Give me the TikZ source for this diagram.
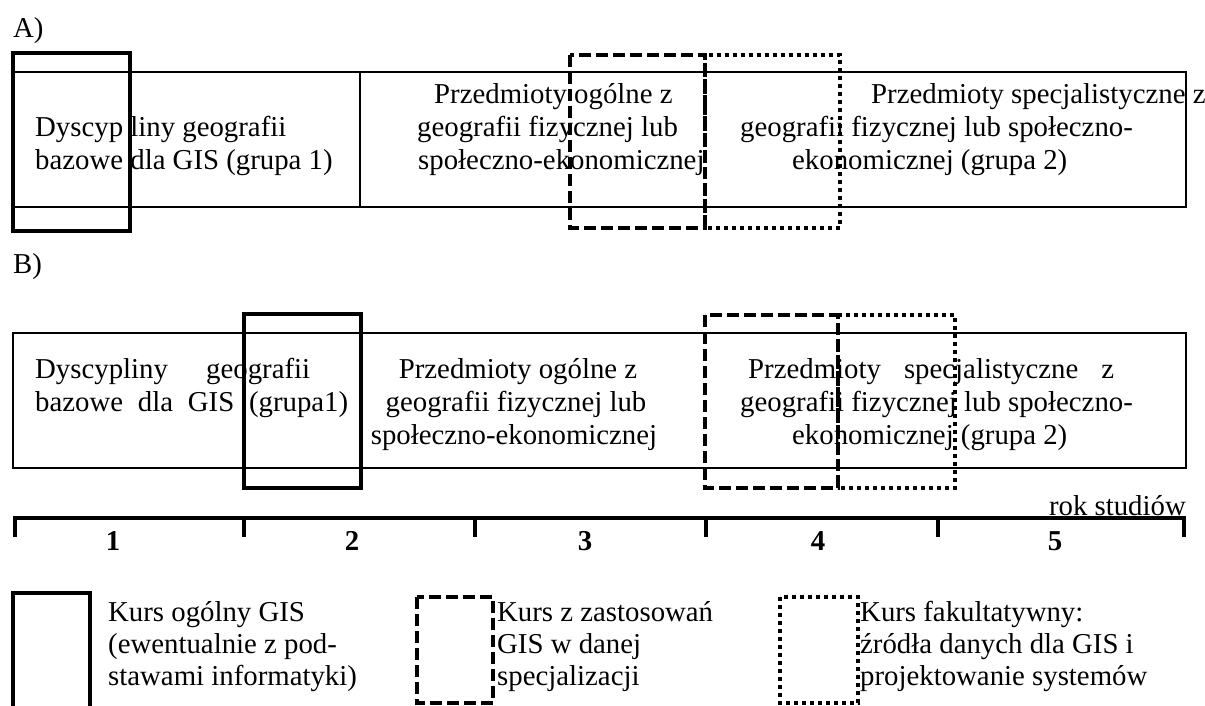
\documentclass[tikz,border=0pt]{standalone}
\usepackage{fontspec}
\setmainfont{Liberation Serif}
\usepackage{tikz}

\begin{document}
\begin{tikzpicture}[
            x = 1pt, y = -1pt, % pixel grid, y runs down
            pasek/.style = {draw=black, line width=1.8pt}, % band of subjects
            ogolny/.style = {draw=black, line width=4.5pt},
            zastos/.style = {draw=black, line width=4.5pt, dash pattern=on 12pt off 5pt},
            fakult/.style = {draw=black, line width=4.5pt, dash pattern=on 4pt off 4pt},
            tekst/.style = {anchor=base west, inner sep=0pt, font=\fontsize{28.8}{33}\selectfont},
            rok/.style = {anchor=base, inner sep=0pt, font=\fontsize{28.8}{33}\selectfont\bfseries}
        ]
\useasboundingbox (0,0) rectangle (1205,706);

% A)
\node[tekst] (LA) at (13,38) {A)};
\draw[pasek] (13,72) rectangle (1186,207);
\draw[pasek] (360,72) -- (360,207);

\node[tekst] (A1a) at (35,137) {Dyscyp liny geografii};
\node[tekst] (A1b) at (35,170) {bazowe dla GIS (grupa 1)};
\node[tekst] (A2a) at (434,104) {Przedmioty ogólne z};
\node[tekst] (A2b) at (417,137) {geografii fizycznej lub};
\node[tekst] (A2c) at (418,170) {społeczno-ekonomicznej};
\node[tekst] (A3a) at (871,104) {Przedmioty specjalistyczne z};
\node[tekst] (A3b) at (740,137) {geografii fizycznej lub społeczno-};
\node[tekst] (A3c) at (792,170) {ekonomicznej (grupa 2)};

\draw[ogolny] (13,53) rectangle (130,231);
\draw[zastos] (570,55) rectangle (705,228);
\draw[fakult] (705,55) rectangle (840,228);

% B)
\node[tekst] (LB) at (13,273) {B)};
\draw[pasek] (13,333) rectangle (1186,468);

\node[tekst] (B1a) at (35,378) {\makebox[275pt][s]{Dyscypliny geografii}};
\node[tekst] (B1b) at (35,411) {\makebox[313pt][s]{bazowe dla GIS (grupa1)}};
\node[tekst, anchor=base] (B2a) at (518,378) {Przedmioty ogólne z};
\node[tekst, anchor=base] (B2b) at (516,411) {geografii fizycznej lub};
\node[tekst, anchor=base] (B2c) at (514,444) {społeczno-ekonomicznej};
\node[tekst] (B3a) at (748,378) {\makebox[366pt][s]{Przedmioty specjalistyczne z}};
\node[tekst] (B3b) at (740,411) {geografii fizycznej lub społeczno-};
\node[tekst] (B3c) at (792,444) {ekonomicznej (grupa 2)};

\draw[ogolny] (244,314) rectangle (361,488);
\draw[zastos] (705,315) rectangle (838,488);
\draw[fakult] (838,315) rectangle (955,488);

% rok studiow
\node[tekst, anchor=base east] (RS) at (1186,515) {rok studiów};
\draw[ogolny] (15,537) -- (15,518) -- (1184,518) -- (1184,537);
\foreach \t in {244,475,706,938}
    \draw[ogolny] (\t,518) -- (\t,537);
\foreach \n/\x in {1/113,2/352,3/585,4/818,5/1055}
    \node[rok] (R\n) at (\x,550) {\n};

% legend
\draw[ogolny] (13,706) -- (13,593) -- (90,593) -- (90,706);
\node[tekst] (L1a) at (108,621) {Kurs ogólny GIS};
\node[tekst] (L1b) at (108,653) {(ewentualnie z pod-};
\node[tekst] (L1c) at (108,685) {stawami informatyki)};

\draw[zastos] (417,597) rectangle (493,703);
\node[tekst] (L2a) at (497,621) {Kurs z zastosowań};
\node[tekst] (L2b) at (497,653) {GIS w danej};
\node[tekst] (L2c) at (497,685) {specjalizacji};

\draw[fakult] (780,597) rectangle (858,703);
\node[tekst] (L3a) at (860,621) {Kurs fakultatywny:};
\node[tekst] (L3b) at (860,653) {źródła danych dla GIS i};
\node[tekst] (L3c) at (860,685) {projektowanie systemów};
\end{tikzpicture}
\end{document}
